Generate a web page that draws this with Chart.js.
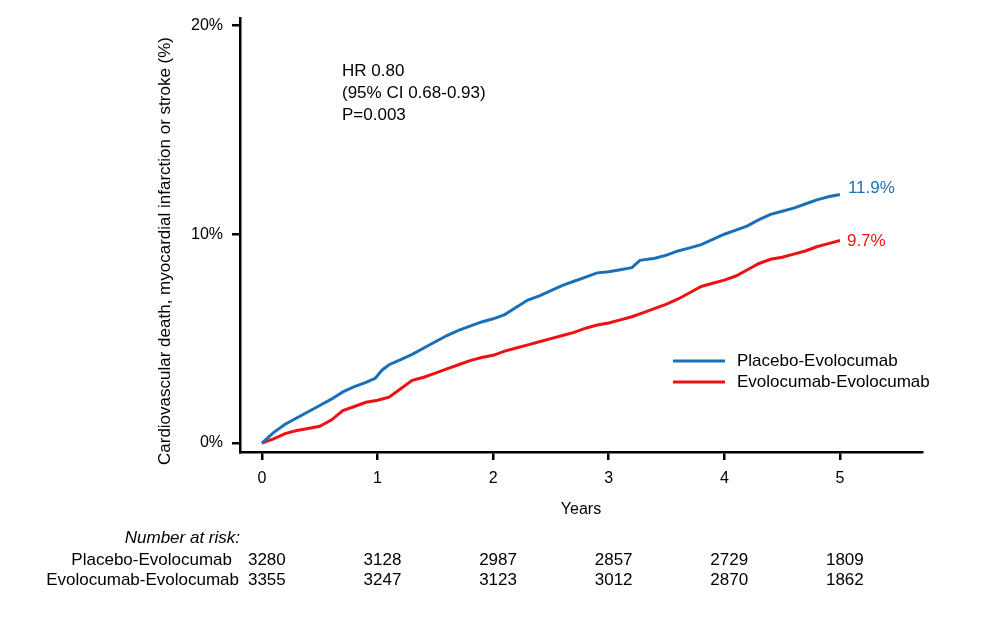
<!DOCTYPE html>
<html>
<head>
<meta charset="utf-8">
<script src="https://cdn.jsdelivr.net/npm/chart.js@4.4.1/dist/chart.umd.min.js"></script>
<style>
  body { margin: 0; background: #fff; }
  #wrap { width: 984px; height: 620px; }
</style>
</head>
<body>
<div id="wrap"><canvas id="kmChart" width="984" height="620"></canvas></div>
<script>
// data
const placeboYears = [0, 0.1, 0.2, 0.3, 0.4, 0.5, 0.6, 0.7, 0.8, 0.9, 0.98, 1.04, 1.1, 1.2, 1.3, 1.4, 1.5, 1.6, 1.7, 1.8, 1.9, 2.0, 2.1, 2.2, 2.3, 2.4, 2.5, 2.6, 2.7, 2.8, 2.9, 3.0, 3.1, 3.2, 3.27, 3.4, 3.5, 3.6, 3.7, 3.8, 3.9, 4.0, 4.1, 4.2, 4.3, 4.4, 4.5, 4.6, 4.7, 4.8, 4.9, 5.0];
const placeboPct = [0, 0.5, 0.9, 1.2, 1.5, 1.8, 2.1, 2.45, 2.7, 2.9, 3.1, 3.5, 3.75, 4.0, 4.25, 4.55, 4.85, 5.15, 5.4, 5.6, 5.8, 5.95, 6.15, 6.5, 6.85, 7.05, 7.3, 7.55, 7.75, 7.95, 8.15, 8.2, 8.3, 8.4, 8.75, 8.85, 9.0, 9.2, 9.35, 9.5, 9.75, 10.0, 10.2, 10.4, 10.7, 10.95, 11.1, 11.25, 11.45, 11.65, 11.8, 11.9];
const evoYears = [0, 0.1, 0.2, 0.3, 0.4, 0.5, 0.6, 0.7, 0.8, 0.9, 1.0, 1.1, 1.2, 1.3, 1.4, 1.5, 1.6, 1.7, 1.8, 1.9, 2.0, 2.1, 2.2, 2.3, 2.4, 2.5, 2.6, 2.7, 2.8, 2.9, 3.0, 3.1, 3.2, 3.3, 3.4, 3.5, 3.6, 3.7, 3.8, 3.9, 4.0, 4.1, 4.2, 4.3, 4.4, 4.5, 4.6, 4.7, 4.8, 4.9, 5.0];
const evoPct = [0, 0.2, 0.45, 0.6, 0.7, 0.8, 1.1, 1.55, 1.75, 1.95, 2.05, 2.2, 2.6, 3.0, 3.15, 3.35, 3.55, 3.75, 3.95, 4.1, 4.2, 4.4, 4.55, 4.7, 4.85, 5.0, 5.15, 5.3, 5.5, 5.65, 5.75, 5.9, 6.05, 6.25, 6.45, 6.65, 6.9, 7.2, 7.5, 7.65, 7.8, 8.0, 8.3, 8.6, 8.8, 8.9, 9.05, 9.2, 9.4, 9.55, 9.7];

const seriesNames = ["Placebo-Evolocumab", "Evolocumab-Evolocumab"];
const endLabels = ["11.9%", "9.7%"];
const xTicks = [0, 1, 2, 3, 4, 5];
const yTicks = [0, 10, 20];
const riskYears = [0, 1, 2, 3, 4, 5];
const riskPlacebo = [3280, 3128, 2987, 2857, 2729, 1809];
const riskEvo = [3355, 3247, 3123, 3012, 2870, 1862];
const statsText = ["HR 0.80", "(95% CI 0.68-0.93)", "P=0.003"];

const BLUE = "#1a70b8";
const RED = "#ee1111";
const FONT = "Liberation Sans, Arial, sans-serif";

function toPoints(xs, ys) {
  return xs.map((x, i) => ({ x: x, y: ys[i] }));
}

/* extra text: stats, end labels, legend, y title, risk table */
const extrasPlugin = {
  id: "extras",
  afterDraw(chart) {
    const ctx = chart.ctx;
    const xs = chart.scales.x;
    const ys = chart.scales.y;
    ctx.save();
    ctx.fillStyle = "#000";
    ctx.textBaseline = "middle";

    // stats box
    ctx.font = "17px " + FONT;
    ctx.textAlign = "left";
    statsText.forEach((t, i) => ctx.fillText(t, 342, 71 + i * 22));

    // end labels
    ctx.fillStyle = BLUE;
    ctx.fillText(endLabels[0], xs.getPixelForValue(5) + 8, ys.getPixelForValue(11.9) - 6);
    ctx.fillStyle = RED;
    ctx.fillText(endLabels[1], xs.getPixelForValue(5) + 7, ys.getPixelForValue(9.7) + 1);

    // legend
    const legendCols = [BLUE, RED];
    seriesNames.forEach((name, i) => {
      const ly = 361 + i * 21;
      ctx.strokeStyle = legendCols[i];
      ctx.lineWidth = 3;
      ctx.beginPath();
      ctx.moveTo(673, ly);
      ctx.lineTo(725, ly);
      ctx.stroke();
      ctx.fillStyle = "#000";
      ctx.fillText(name, 737, ly);
    });

    // y axis title
    ctx.save();
    ctx.translate(165, 251);
    ctx.rotate(-Math.PI / 2);
    ctx.textAlign = "center";
    ctx.font = "17px " + FONT;
    ctx.fillText("Cardiovascular death, myocardial infarction or stroke (%)", 0, 0);
    ctx.restore();

    // number at risk
    ctx.textAlign = "right";
    ctx.font = "italic 17px " + FONT;
    ctx.fillText("Number at risk:", 240, 538);
    ctx.font = "17px " + FONT;
    ctx.fillText(seriesNames[0], 232, 560);
    ctx.fillText(seriesNames[1], 239, 580);
    ctx.textAlign = "left";
    riskYears.forEach((yr, i) => {
      const px = xs.getPixelForValue(yr) - 14;
      ctx.fillText(String(riskPlacebo[i]), px, 560);
      ctx.fillText(String(riskEvo[i]), px, 580);
    });
    ctx.restore();
  }
};

const ctx = document.getElementById("kmChart");
const kmChart = new Chart(ctx, {
  type: "line",
  data: {
    datasets: [
      {
        label: seriesNames[0],
        data: toPoints(placeboYears, placeboPct),
        borderColor: BLUE,
        borderWidth: 3,
        pointRadius: 0,
        tension: 0,
      },
      {
        label: seriesNames[1],
        data: toPoints(evoYears, evoPct),
        borderColor: RED,
        borderWidth: 3,
        pointRadius: 0,
        tension: 0,
      },
    ],
  },
  options: {
    responsive: false,
    animation: false,
    devicePixelRatio: 1,
    layout: { padding: { left: 0, right: 62, top: 18, bottom: 100 } },
    plugins: {
      legend: { display: false },
      tooltip: { enabled: false },
    },
    scales: {
      x: {
        type: "linear",
        min: -0.19,
        max: 5.71,
        afterBuildTicks: (s) => { s.ticks = xTicks.map((v) => ({ value: v })); },
        afterFit: (s) => { s.height = 68; },
        ticks: {
          color: "#000",
          padding: 9,
          font: { family: FONT, size: 16 },
          callback: (v) => String(v),
        },
        grid: { drawOnChartArea: false, drawTicks: true, tickLength: 8, color: "#000", lineWidth: 2.5 },
        border: { display: true, color: "#000", width: 2.5 },
        title: {
          display: true,
          text: "Years",
          color: "#000",
          font: { family: FONT, size: 16 },
          padding: { top: 0, bottom: 1 },
        },
      },
      y: {
        type: "linear",
        min: -0.43,
        max: 20.33,
        afterBuildTicks: (s) => { s.ticks = yTicks.map((v) => ({ value: v })); },
        afterFit: (s) => { s.width = 240; },
        ticks: {
          color: "#000",
          padding: 9,
          font: { family: FONT, size: 16 },
          callback: (v) => v + "%",
        },
        grid: { drawOnChartArea: false, drawTicks: true, tickLength: 8, color: "#000", lineWidth: 2.5 },
        border: { display: true, color: "#000", width: 2.5 },
      },
    },
  },
  plugins: [extrasPlugin],
});
kmChart;
</script>
</body>
</html>
